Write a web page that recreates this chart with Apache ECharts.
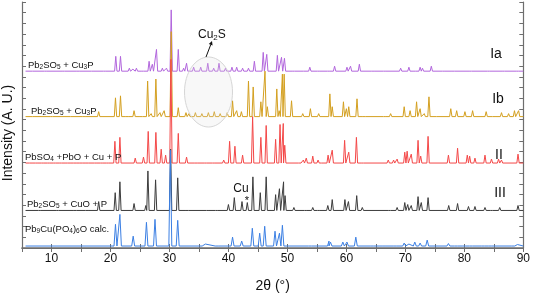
<!DOCTYPE html>
<html><head><meta charset="utf-8">
<script src="https://cdn.jsdelivr.net/npm/echarts@6/dist/echarts.min.js"></script>
<style>html,body{margin:0;padding:0;background:#fff}#c{width:533px;height:298px}</style>
</head><body><div id="c"></div>
<script>
// x-axis range and ticks (2θ, degrees)
const xMin = 5, xMax = 90, xTickStep = 5;
// vertical offsets of each pattern (A.U.)
const baseIa = 179, baseIb = 133, baseII = 86, baseIII = 38, baseCalc = 2;
// peaks: [2θ, intensity above baseline]
const peaksIa = [[7,1],[9,1],[12,1],[14.5,1],[17,1],[19,1],
 [20.9,15],[21.7,15],[23.2,3],[23.8,2],[24.4,3],[25.4,2],[26.55,10],[27.1,7],[27.8,22],[28.8,3],[29.5,3],[30.3,62],[31.5,22],[32.4,3],[32.9,8],
 [34.1,4],[35.3,4],[36.5,8],[37.5,3],[38.4,8],[39.5,3],[40.6,4],[41.4,4],[42.4,3],[43.4,3],[44.4,10],[45.9,19],[46.5,17],[48.3,16],[49.0,14],[49.5,13],
 [51.0,2],[52.5,2],[53.8,4],[55.3,2],[57.0,2],[58.0,5],[60.1,4],[60.7,5],[62.2,7],[64.5,2],[66.5,2],[69.2,3],[70.6,4],[71.5,2],[72.5,4],[72.9,3],[74.4,5],
 [76.5,2],[78.1,2],[81.0,2],[84.1,2],[86.6,2],[89,1]];
const peaksIb = [[7,1],[10,1],[13,1],[15.5,1],[18.0,5],[20.85,19],[21.7,21],[22.8,2],[24.0,6],[25.2,2],[26.3,36],[26.9,3],[27.7,38],[28.4,4],[29.1,6],[30.3,86],
 [31.5,9],[32.8,4],[33.3,3],[34.4,4],[35.5,3],[36.6,4],[37.6,5],[38.6,3],[39.8,4],[40.7,16],[41.4,6],[42.2,5],[43.4,36],[44.2,30],[45.5,15],[46.2,46],[46.6,10],
 [48.2,28],[48.6,6],[49.15,43],[49.45,43],[50.7,16],[52.6,3],[53.9,8],[55.3,3],[57.2,23],[57.6,10],[59.5,15],[60.0,8],[60.4,10],[61.8,18],[63.0,2],[66.5,2],[67.5,3],
 [69.8,10],[70.8,6],[71.9,15],[72.5,8],[73.2,3],[74.0,20],[75.5,2],[77.7,8],[78.7,6],[80.1,5],[81.4,6],[83.7,5],[85.0,2],[86.3,4],[87.5,3],[88.5,6],[89.2,6]];
const peaksII = [[6.5,2],[7.5,1.5],[8.5,2],[9.5,1.5],[10.5,2],[11.5,2],[12.5,1.5],[13.5,2],[14.5,1.5],[15.5,2],[16.5,1.5],[17.5,2],[18.5,2],[19.5,1.5],
 [20.75,22],[21.6,26],[24.2,5],[25.6,6],[26.4,32],[27.7,31],[28.6,14],[29.35,8],[30.25,105],[31.5,30],[32.9,6],[34.5,1.5],[36.1,2],[37.5,1.5],[39.2,3],
 [40.2,22],[41.1,17],[42.4,8],[44.1,47],[45.5,26],[46.4,38],[48.0,24],[48.75,39],[49.3,40],[49.55,18],[52.1,2],[52.7,3],[53.2,5],[54.3,7],[55.2,3],[56.0,2],
 [56.9,8],[57.6,13],[59.7,23],[60.4,11],[61.7,26],[62.7,2],[67.1,3],[68.0,3],[68.6,4],[69.9,11],[70.3,12],[71.0,9],[72.15,23],[72.6,7],[73.85,27],
 [77.3,8],[78.85,15],[80.5,8],[80.9,7],[81.8,5],[83.5,8],[84.6,4],[85.8,4],[86.3,3],[89.1,9]];
const peaksIII = [[8,1],[11,1],[14,1],[16,1],[18.0,9],[20.8,18],[21.6,29],[24.0,7],[26.0,5],[26.35,40],[27.65,31],[30.2,62],[31.4,33],[33.0,2],[36.5,2],[38.0,1.5],
 [40.0,6],[41.0,13],[42.3,9],[43.2,8],[44.15,34],[45.4,18],[46.4,34],[48.0,16],[48.65,22],[49.35,29],[49.6,15],[51.1,3],[53.1,2],[54.3,3],[55.3,2],
 [56.85,5],[57.6,11],[59.75,11],[60.35,9],[61.75,15],[62.7,3],[67.3,2],[68.6,3],[69.9,8],[70.4,6],[71.0,5],[72.15,14],[72.7,8],[73.85,13],
 [77.35,5],[78.85,7],[80.7,4],[81.8,4],[83.5,3],[84.6,2],[86.0,3],[89.1,5]];
const peaksCalc = [[20.85,22],[21.6,32],[23.85,10],[26.1,24],[27.55,27],[30.15,97],[31.4,26],[35.3,2],[36.1,2],[38.0,1],[40.7,9],[42.25,5],[44.05,18],
 [45.3,13],[46.15,20],[47.9,15],[48.65,13],[49.15,21],[53.8,2],[57.05,5],[57.3,4],[59.4,4],[60.1,4],[61.6,9],[64.4,1.5],[66.3,1],[68.3,1.5],
 [69.8,3],[70.6,2],[71.6,4],[72.5,3],[73.7,6],[77.3,2.5],[78.6,2],[80.0,2],[81.1,2],[83.2,2],[84.3,1.5],[88.3,1.5],[89.0,1.5]];

const startX = 5.6, endX = 90;
function profile(peaks, base, w) {
  const pts = [[startX, base]];
  peaks.forEach(([p, h]) => { pts.push([p - w, base], [p, base + h], [p + w, base]); });
  pts.push([endX, base]);
  pts.sort((a, b) => a[0] - b[0]);
  return pts;
}
const FONT = 'Arial, "Liberation Sans", sans-serif';
const yMax = 249, yStep = 249 / 23;
const axisColor = '#6e6e6e';

function line(name, data, color) {
  return { name, type: 'line', data, showSymbol: false, symbol: 'none', animation: false,
    lineStyle: { width: 1, color }, itemStyle: { color } };
}
function chem(parts) { // parts: array of [text, isSub]
  return parts.map(([t, s]) => '{' + (s ? 's' : 'n') + '|' + t + '}').join('');
}
const rich = {
  n: { fontSize: 9.5, lineHeight: 12, fontFamily: FONT, fill: '#111' },
  s: { fontSize: 6.5, lineHeight: 5, verticalAlign: 'bottom', fontFamily: FONT, fill: '#111' }
};
function label(x, y, parts) {
  return { type: 'text', x, y, z: 100, style: { text: chem(parts), rich, align: 'left', verticalAlign: 'middle' } };
}
function plain(x, y, text, size) {
  return { type: 'text', x, y, z: 100, style: { text, fill: '#111', font: size + 'px ' + FONT, align: 'center', verticalAlign: 'middle' } };
}

const chart = echarts.init(document.getElementById('c'), null, { renderer: 'canvas' });
chart.setOption({
  animation: false,
  backgroundColor: '#fff',
  grid: { left: 22, right: 6, top: 2, bottom: 47 },
  xAxis: [{
    type: 'value', min: xMin, max: xMax, interval: xTickStep, position: 'bottom',
    name: '2θ (°)', nameLocation: 'middle', nameGap: 31,
    nameTextStyle: { fontSize: 14, fontFamily: FONT, color: '#111' },
    axisLine: { lineStyle: { color: axisColor, width: 1.2 } },
    axisTick: { inside: true, length: 4, lineStyle: { color: axisColor } },
    axisLabel: { fontSize: 12, fontFamily: FONT, color: '#111', margin: 5, formatter: v => (v % 10 === 0 ? String(v) : '') },
    splitLine: { show: false }
  }, {
    type: 'value', min: xMin, max: xMax, interval: xTickStep, position: 'top',
    axisLine: { lineStyle: { color: axisColor, width: 1.5 } },
    axisTick: { inside: true, length: 4, lineStyle: { color: axisColor } },
    axisLabel: { show: false }, splitLine: { show: false }
  }],
  yAxis: [{
    type: 'value', min: 0, max: yMax, interval: yStep, position: 'left',
    axisLine: { show: true, lineStyle: { color: axisColor, width: 1.2 } },
    axisTick: { show: true, inside: true, length: 4, lineStyle: { color: axisColor } },
    axisLabel: { show: false }, splitLine: { show: false }
  }, {
    type: 'value', min: 0, max: yMax, interval: yStep, position: 'right',
    axisLine: { show: true, lineStyle: { color: axisColor, width: 1.2 } },
    axisTick: { show: true, inside: true, length: 4, lineStyle: { color: axisColor } },
    axisLabel: { show: false }, splitLine: { show: false }
  }],
  series: [
    line('Ia', profile(peaksIa, baseIa, 0.2), '#b266dd'),
    line('Ib', profile(peaksIb, baseIb, 0.2), '#d4a020'),
    line('II', profile(peaksII, baseII, 0.2), '#f44848'),
    line('III', profile(peaksIII, baseIII, 0.2), '#3c3c3c'),
    line('calc', profile(peaksCalc, baseCalc, 0.25), '#3b7fe3')
  ],
  graphic: [
    { type: 'ellipse', z: 90, shape: { cx: 208.5, cy: 92, rx: 24, ry: 35 },
      style: { fill: 'rgba(225,225,225,0.22)', stroke: '#d6d6d6', lineWidth: 1 } },
    { type: 'text', x: 8, y: 133, rotation: Math.PI / 2, z: 100,
      style: { text: 'Intensity (A. U.)', fill: '#111', font: '14px ' + FONT, align: 'center', verticalAlign: 'middle' } },
    label(28, 65, [['Pb'], ['2', 1], ['SO'], ['5', 1], [' + Cu'], ['3', 1], ['P']]),
    label(31, 111, [['Pb'], ['2', 1], ['SO'], ['5', 1], [' + Cu'], ['3', 1], ['P']]),
    label(25, 157, [['PbSO'], ['4', 1], [' +PbO + Cu + P']]),
    label(27, 204, [['Pb'], ['2', 1], ['SO'], ['5', 1], [' + CuO + P']]),
    label(25, 229, [['Pb'], ['9', 1], ['Cu(PO'], ['4', 1], [')'], ['6', 1], ['O calc.']]),
    plain(496, 54, 'Ia', 14),
    plain(498, 99, 'Ib', 14),
    plain(499, 155, 'II', 14),
    plain(500, 193, 'III', 14),
    { type: 'text', x: 198, y: 35, z: 100, style: { text: '{a|Cu}{b|2}{a|S}', align: 'left', verticalAlign: 'middle',
      rich: { a: { fontSize: 12, lineHeight: 14, fontFamily: FONT, fill: '#111' }, b: { fontSize: 8, lineHeight: 6, verticalAlign: 'bottom', fontFamily: FONT, fill: '#111' } } } },
    { type: 'line', z: 100, shape: { x1: 206, y1: 57, x2: 210.8, y2: 44.5 }, style: { stroke: '#111', lineWidth: 1 } },
    { type: 'polygon', z: 100, shape: { points: [[212, 41], [212.6, 45.4], [208.8, 44.0]] }, style: { fill: '#111' } },
    plain(241, 189, 'Cu', 12),
    plain(247, 201, '*', 11)
  ]
});
</script></body></html>
